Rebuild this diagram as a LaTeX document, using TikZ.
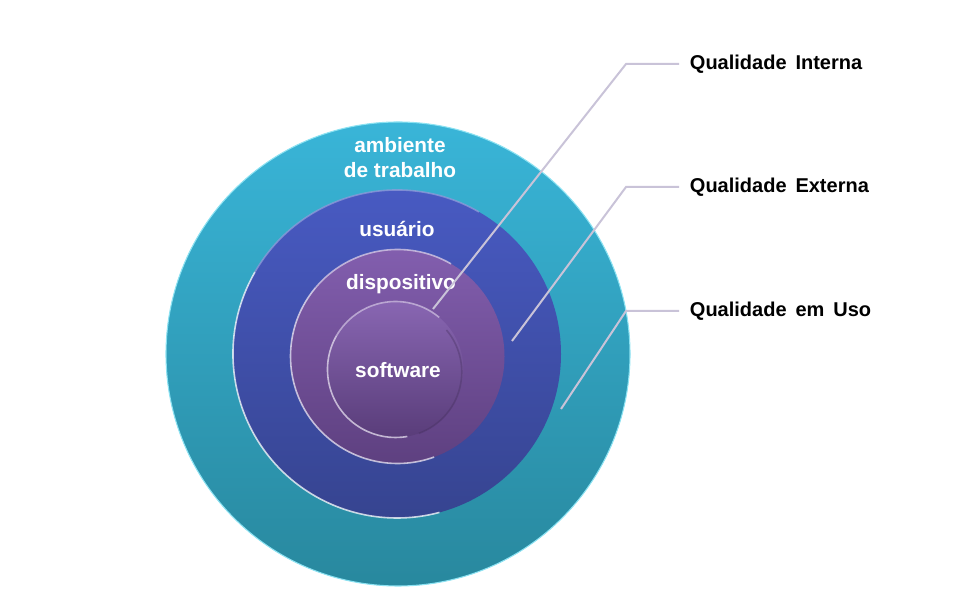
\documentclass[tikz,border=0pt]{standalone}
\usepackage{fontspec}
\setmainfont{Liberation Sans}
\newfontfamily\qualfont[WordSpace=1.6]{Liberation Sans}
\usetikzlibrary{positioning, calc}
\definecolor{ambtop}{RGB}{57,181,216}
\definecolor{ambbot}{RGB}{40,136,158}
\definecolor{usrtop}{RGB}{72,90,194}
\definecolor{usrbot}{RGB}{54,68,144}
\definecolor{distop}{RGB}{130,94,174}
\definecolor{disbot}{RGB}{94,64,128}
\definecolor{rimcyan}{RGB}{140,226,242}
\definecolor{leader}{RGB}{201,195,216}
\tikzstyle{ring} = [circle, inner sep=0pt, outer sep=0pt]
\tikzstyle{rim} = [line width=1.2pt, opacity=0.75]
\tikzstyle{inlbl} = [text=white, align=center, font=\bfseries\fontsize{15.6}{18.8}\selectfont]
\tikzstyle{qual} = [anchor=west, inner sep=8pt, font=\qualfont\bfseries\fontsize{15}{18}\selectfont]
\tikzstyle{lead} = [leader, line width=1.5pt]

\begin{document}
\begin{tikzpicture}[x=0.75pt, y=0.75pt]
    \useasboundingbox (0,0) rectangle (960,616);

    % rings, outside in
    \node (amb) [ring, minimum size=348pt, top color=ambtop, bottom color=ambbot, draw=rimcyan, line width=0.8pt] at (398,262) {};
    \node (usr) [ring, minimum size=246pt, top color=usrtop, bottom color=usrbot] at (397,262) {};
    \node (dis) [ring, minimum size=160.5pt, top color=distop, bottom color=disbot] at (397.5,259.5) {};
    \node (sw) [ring, minimum size=102pt, top color=distop!95!white, bottom color=disbot!95!black] at (395.5,246.5) {};

    % bevel highlights
    \draw[rim, white] (usr.150) arc[start angle=150, end angle=285, radius=123pt];
    \draw[rim, usrtop!60!white] (usr.60) arc[start angle=60, end angle=150, radius=123pt];
    \draw[rim, white!85!distop] (dis.140) arc[start angle=140, end angle=290, radius=80.25pt];
    \draw[rim, white!70!distop] (dis.60) arc[start angle=60, end angle=140, radius=80.25pt];
    \draw[rim, white!80!distop] (sw.150) arc[start angle=150, end angle=280, radius=51pt];
    \draw[rim, white!60!distop] (sw.50) arc[start angle=50, end angle=150, radius=51pt];
    \draw[rim, disbot!70!black, opacity=0.35] (sw.290) arc[start angle=290, end angle=400, radius=49pt];

    % ring labels
    \node (lamb) [inlbl, anchor=north, inner sep=0pt] at (400,479) {ambiente\\de trabalho};
    \node (lusr) [inlbl] at (397,387.5) {usuário};
    \node (ldis) [inlbl] at (401,332) {dispositivo};
    \node (lsw) [inlbl] at (398,246) {software};

    % quality labels and leaders
    \node (qi) [qual] at (679,552) {Qualidade Interna};
    \node (qe) [qual] at (679,429) {Qualidade Externa};
    \node (qu) [qual] at (679,305) {Qualidade em Uso};

    \coordinate (pi) at (433,307);
    \coordinate (pe) at (512,275);
    \coordinate (pu) at (561,207);

    \draw [lead] (pi) -- ($(qi.west)+(-53,0)$) -- (qi.west);
    \draw [lead] (pe) -- ($(qe.west)+(-53,0)$) -- (qe.west);
    \draw [lead] (pu) -- ($(qu.west)+(-53,0)$) -- (qu.west);
\end{tikzpicture}
\end{document}
